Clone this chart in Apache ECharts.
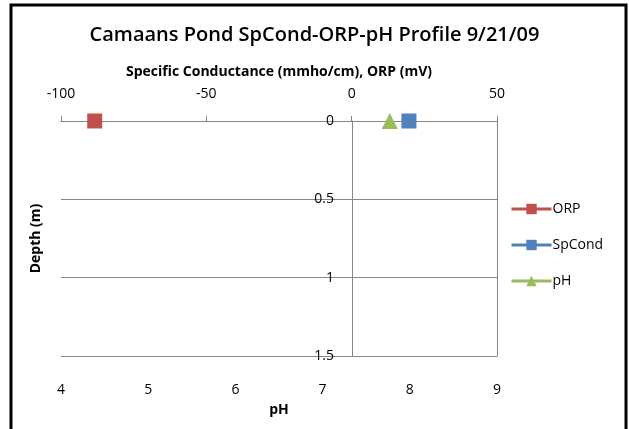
<!DOCTYPE html>
<html>
<head>
<meta charset="utf-8">
<script src="https://cdn.jsdelivr.net/npm/echarts@6/dist/echarts.min.js"></script>
<style>
  html, body { margin: 0; padding: 0; background: #fff; }
  #chart { width: 629px; height: 429px; }
</style>
</head>
<body>
<div id="chart"></div>
<script>
// depth (m) of each reading
const depths = [0]
// readings on the top axis (mmho/cm, mV)
const orpValues = [-88.4]
const spCondValues = [19.7]
// readings on the bottom axis
const phValues = [7.77]

const toPoints = (vals) => vals.map((v, i) => [v, depths[i]])

const labelFont = 'Open Sans'
const gridColor = '#868686'

const chartInstance = echarts.init(document.getElementById('chart'))
const option = {
  backgroundColor: '#fff',
  animation: false,
  title: {
    text: 'Camaans Pond SpCond-ORP-pH Profile 9/21/09',
    left: 'center',
    top: 20,
    textStyle: { fontFamily: labelFont, fontSize: 20, fontWeight: 600, color: '#000' }
  },
  // outer chart frame
  graphic: [{
    type: 'rect',
    shape: { x: 11, y: 5, width: 615, height: 440 },
    style: { fill: 'none', stroke: '#000', lineWidth: 3 },
    silent: true
  }],
  legend: {
    orient: 'vertical',
    left: 505,
    top: 197,
    itemWidth: 40,
    itemHeight: 13,
    itemGap: 22,
    lineStyle: { width: 3 },
    textStyle: { fontFamily: labelFont, fontSize: 14, color: '#000', padding: [0, 0, 0, -4] },
    data: ['ORP', 'SpCond', 'pH']
  },
  grid: {
    left: 61,
    right: 132,
    top: 121,
    bottom: 73,
    containLabel: false,
    outerBoundsMode: 'none'
  },
  xAxis: [
    {
      // pH, labels only at the bottom
      type: 'value',
      position: 'bottom',
      min: 4,
      max: 9,
      interval: 1,
      name: 'pH',
      nameLocation: 'middle',
      nameGap: 47,
      nameTextStyle: { fontFamily: labelFont, fontSize: 14, fontWeight: 'bold', color: '#000' },
      axisLine: { show: false },
      axisTick: { show: false },
      splitLine: { show: false },
      axisLabel: { margin: 27, fontFamily: labelFont, fontSize: 14, color: '#000' }
    },
    {
      type: 'value',
      position: 'top',
      min: -100,
      max: 50,
      interval: 50,
      name: 'Specific Conductance (mmho/cm), ORP (mV)',
      nameLocation: 'middle',
      nameGap: 42,
      nameTextStyle: { fontFamily: labelFont, fontSize: 14, fontWeight: 'bold', color: '#000' },
      axisLine: { onZero: false, lineStyle: { color: gridColor, width: 1 } },
      axisTick: { inside: false, length: 5, lineStyle: { color: gridColor } },
      splitLine: { show: false },
      axisLabel: { margin: 20, fontFamily: labelFont, fontSize: 14, color: '#000' }
    }
  ],
  yAxis: [
    {
      // depth axis sits where the top axis is 0
      type: 'value',
      inverse: true,
      min: 0,
      max: 1.5,
      interval: 0.5,
      offset: -291,
      name: 'Depth (m)',
      nameLocation: 'middle',
      nameGap: 309,
      nameTextStyle: { fontFamily: labelFont, fontSize: 14, fontWeight: 'bold', color: '#000', padding: [0, 0, 0, 0] },
      axisLine: { show: true, onZero: false, lineStyle: { color: gridColor, width: 1 } },
      axisTick: { show: false },
      axisLabel: { margin: 18, fontFamily: labelFont, fontSize: 14, color: '#000' },
      splitLine: { show: true, lineStyle: { color: gridColor, width: 1 } }
    },
    {
      // right edge of the plot area
      type: 'value',
      position: 'right',
      inverse: true,
      min: 0,
      max: 1.5,
      interval: 0.5,
      axisLine: { show: true, onZero: false, lineStyle: { color: gridColor, width: 1 } },
      axisTick: { show: false },
      axisLabel: { show: false },
      splitLine: { show: false }
    }
  ],
  series: [
    {
      name: 'ORP',
      type: 'line',
      xAxisIndex: 1,
      yAxisIndex: 0,
      data: toPoints(orpValues),
      symbol: 'rect',
      symbolSize: 15,
      itemStyle: { color: '#C0504D' },
      lineStyle: { color: '#C0504D', width: 3 }
    },
    {
      name: 'SpCond',
      type: 'line',
      xAxisIndex: 1,
      yAxisIndex: 0,
      data: toPoints(spCondValues),
      symbol: 'rect',
      symbolSize: 15,
      itemStyle: { color: '#4F81BD' },
      lineStyle: { color: '#4F81BD', width: 3 }
    },
    {
      name: 'pH',
      type: 'line',
      xAxisIndex: 0,
      yAxisIndex: 0,
      data: toPoints(phValues),
      symbol: 'triangle',
      symbolSize: 16,
      itemStyle: { color: '#9BBB59' },
      lineStyle: { color: '#9BBB59', width: 3 }
    }
  ]
}
chartInstance.setOption(option)
</script>
</body>
</html>
